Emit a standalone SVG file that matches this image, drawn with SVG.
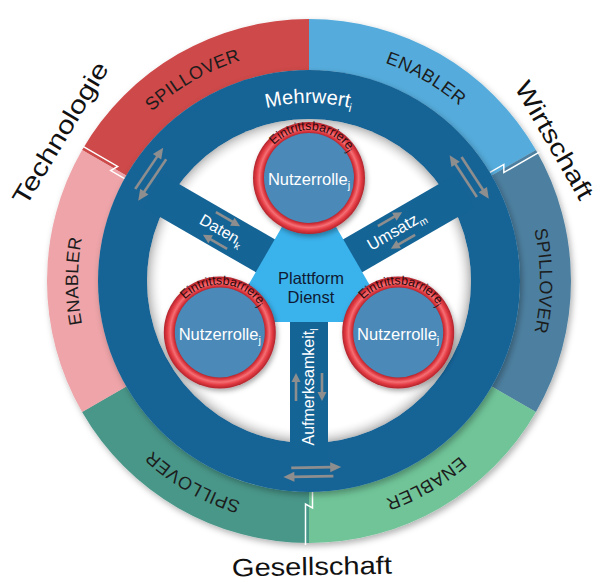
<svg xmlns="http://www.w3.org/2000/svg" width="595" height="581" viewBox="0 0 595 581">
<defs>
<style>
.lbl{font-family:"Liberation Sans",Arial,sans-serif;font-size:18px;fill:#1c1c1c;letter-spacing:0.4px}
.dom{font-family:"Liberation Sans",Arial,sans-serif;font-size:25px;fill:#111}
.wt{font-family:"Liberation Sans",Arial,sans-serif;fill:#fff}
.eb{font-family:"Liberation Sans",Arial,sans-serif;font-size:12.5px;fill:#2b0a0c}
.zz{fill:none;stroke:#fff;stroke-width:1.5;stroke-linejoin:miter}
.bar{fill:#156496}
.ln{stroke:#8e8e8e;stroke-width:2.6;fill:none}
.hd{fill:#8e8e8e}
.pf{font-family:"Liberation Sans",Arial,sans-serif;font-size:16.5px;fill:#0f1a33}
</style>
<filter id="sh" x="-10%" y="-10%" width="125%" height="125%"><feDropShadow dx="2" dy="3" stdDeviation="3" flood-color="#000" flood-opacity="0.3"/></filter>
<filter id="sh2" x="-20%" y="-20%" width="140%" height="140%"><feDropShadow dx="1.5" dy="2.5" stdDeviation="2.5" flood-color="#000" flood-opacity="0.35"/></filter>
<radialGradient id="tube" cx="0.5" cy="0.5" r="0.5">
<stop offset="0.79" stop-color="#a8222a"/>
<stop offset="0.835" stop-color="#dc363e"/>
<stop offset="0.885" stop-color="#f46f74"/>
<stop offset="0.94" stop-color="#e33a42"/>
<stop offset="1" stop-color="#b0242c"/>
</radialGradient>
<radialGradient id="inSh" gradientUnits="userSpaceOnUse" cx="309" cy="281" r="163">
<stop offset="0.9" stop-color="#fff" stop-opacity="0"/>
<stop offset="1" stop-color="#6f6f6f" stop-opacity="0.55"/>
</radialGradient>
<path id="lblPath" d="M309,512 A231,231 0 1 1 309,50 A231,231 0 1 1 309,512"/>
<path id="mwPath" d="M131,281 A178,178 0 0 1 487,281"/>
<path id="ebT" d="M261,178 A48,48 0 0 1 357,178"/>
<path id="ebL" d="M171.8,332.5 A48,48 0 0 1 267.8,332.5"/>
<path id="ebR" d="M350.2,332.5 A48,48 0 0 1 446.2,332.5"/>
<g id="as"><path class="ln" d="M-14,0 H6"/><path class="hd" d="M5,-4.5 L14,0 L5,4.5 Z"/></g>
<g id="al"><path class="ln" d="M-25,0 H16"/><path class="hd" d="M14,-5 L25,0 L14,5 Z"/></g>
</defs>

<rect width="595" height="581" fill="#fff"/>

<g id="outer-ring" filter="url(#sh)">
<path id="seg-tech-spillover" fill="#ce4a4a" d="M82.1,150 A262,262 0 0 1 309,19 L309,70 A211,211 0 0 0 126.3,175.5 Z"/>
<path id="seg-wirt-enabler" fill="#54acdc" d="M309,19 A262,262 0 0 1 535.9,150 L491.7,175.5 A211,211 0 0 0 309,70 Z"/>
<path id="seg-wirt-spillover" fill="#4e80a0" d="M535.9,150 A262,262 0 0 1 535.9,412 L491.7,386.5 A211,211 0 0 0 491.7,175.5 Z"/>
<path id="seg-ges-enabler" fill="#70c498" d="M535.9,412 A262,262 0 0 1 309,543 L309,492 A211,211 0 0 0 491.7,386.5 Z"/>
<path id="seg-ges-spillover" fill="#4a9789" d="M309,543 A262,262 0 0 1 82.1,412 L126.3,386.5 A211,211 0 0 0 309,492 Z"/>
<path id="seg-tech-enabler" fill="#eea4a8" d="M82.1,412 A262,262 0 0 1 82.1,150 L126.3,175.5 A211,211 0 0 0 126.3,386.5 Z"/>
</g>
<g id="zigzags">
<polyline class="zz" points="126.28,179.53 110.69,170.53 117.66,166.47 82.15,145.97"/>
<polyline class="zz" points="488.22,173.47 503.81,164.47 503.84,172.53 539.35,152.03"/>
<polyline class="zz" points="312.5,490 312.5,508 305.5,504 305.5,545"/>
</g>
<g id="ring-labels" class="lbl">
<text><textPath href="#lblPath" startOffset="8.333%" text-anchor="middle">SPILLOVER</textPath></text>
<text><textPath href="#lblPath" startOffset="25%" text-anchor="middle">ENABLER</textPath></text>
<text><textPath href="#lblPath" startOffset="41.667%" text-anchor="middle">SPILLOVER</textPath></text>
<text><textPath href="#lblPath" startOffset="58.333%" text-anchor="middle">ENABLER</textPath></text>
<text><textPath href="#lblPath" startOffset="75%" text-anchor="middle">SPILLOVER</textPath></text>
<text><textPath href="#lblPath" startOffset="91.667%" text-anchor="middle">ENABLER</textPath></text>
</g>

<g id="domain-labels" class="dom">
<text transform="translate(67.7,137.6) rotate(-59)" text-anchor="middle" textLength="162" lengthAdjust="spacingAndGlyphs">Technologie</text>
<text transform="translate(547,144.5) rotate(60)" text-anchor="middle" textLength="132" lengthAdjust="spacingAndGlyphs">Wirtschaft</text>
<text transform="translate(312,575) rotate(-1)" text-anchor="middle" textLength="160" lengthAdjust="spacingAndGlyphs">Gesellschaft</text>
</g>

<g id="value-ring">
<circle cx="309" cy="281" r="211" fill="#156496" filter="url(#sh)"/>
<circle cx="309" cy="281" r="162" fill="#fff"/>
<circle cx="309" cy="281" r="162" fill="url(#inSh)"/>
<text class="wt" font-size="20"><textPath href="#mwPath" startOffset="50%" text-anchor="middle">Mehrwert<tspan font-size="12" dy="4">i</tspan></textPath></text>
</g>

<g id="connectors">
<rect class="bar" x="0" y="-19" width="180" height="38" transform="translate(309,281) rotate(-150)"/>
<rect class="bar" x="0" y="-19" width="180" height="38" transform="translate(309,281) rotate(-30)"/>
<rect class="bar" x="0" y="-19" width="180" height="38" transform="translate(309,281) rotate(90)"/>
<g id="lbl-daten" transform="translate(221.5,230.5) rotate(30)">
<text class="wt" font-size="16" x="0" y="5" text-anchor="middle">Daten<tspan font-size="10" dy="4">k</tspan></text>
<use href="#as" transform="translate(0,-13)"/>
<use href="#as" transform="translate(0,13) scale(-1,1)"/>
</g>
<g id="lbl-umsatz" transform="translate(396.5,230.5) rotate(-30)">
<text class="wt" font-size="16.5" x="0" y="5" text-anchor="middle">Umsatz<tspan font-size="10" dy="4">m</tspan></text>
<use href="#as" transform="translate(0,-13)"/>
<use href="#as" transform="translate(0,13) scale(-1,1)"/>
</g>
<g id="lbl-aufmerksamkeit" transform="translate(309,387) rotate(-90)">
<text class="wt" font-size="16" x="0" y="5" text-anchor="middle">Aufmerksamkeit<tspan font-size="10" dy="4">l</tspan></text>
<use href="#as" transform="translate(0,-13)"/>
<use href="#as" transform="translate(0,13) scale(-1,1)"/>
</g>
<g id="ring-arrows-tl" transform="translate(150.7,174.2) rotate(-56)">
<use href="#al" transform="translate(4,-4.5)"/>
<use href="#al" transform="translate(-4,4.5) scale(-1,1)"/>
</g>
<g id="ring-arrows-tr" transform="translate(469.2,177) rotate(57)">
<use href="#al" transform="translate(4,-4.5)"/>
<use href="#al" transform="translate(-4,4.5) scale(-1,1)"/>
</g>
<g id="ring-arrows-b" transform="translate(312.3,472) rotate(179)">
<use href="#al" transform="translate(4,-4.5)"/>
<use href="#al" transform="translate(-4,4.5) scale(-1,1)"/>
</g>
</g>

<g id="platform">
<polygon points="309,180 391,322 227,322" fill="#3ab2ec"/>
<text class="pf" x="311" y="284" text-anchor="middle">Plattform</text>
<text class="pf" x="311" y="303" text-anchor="middle">Dienst</text>
</g>

<g id="nutzer-top">
<circle cx="309" cy="178" r="56" fill="url(#tube)" filter="url(#sh2)"/>
<circle cx="309" cy="178" r="45" fill="#4a89b8"/>
<text class="eb"><textPath href="#ebT" startOffset="52.8%" text-anchor="middle">Eintrittsbarriere<tspan font-size="9" dy="3">j</tspan></textPath></text>
<text class="wt" font-size="16.5" x="309" y="185" text-anchor="middle">Nutzerrolle<tspan font-size="11" dy="4">j</tspan></text>
</g>
<g id="nutzer-left">
<circle cx="219.8" cy="332.5" r="56" fill="url(#tube)" filter="url(#sh2)"/>
<circle cx="219.8" cy="332.5" r="45" fill="#4a89b8"/>
<text class="eb"><textPath href="#ebL" startOffset="52.8%" text-anchor="middle">Eintrittsbarriere<tspan font-size="9" dy="3">j</tspan></textPath></text>
<text class="wt" font-size="16.5" x="219.8" y="339.5" text-anchor="middle">Nutzerrolle<tspan font-size="11" dy="4">j</tspan></text>
</g>
<g id="nutzer-right">
<circle cx="398.2" cy="332.5" r="56" fill="url(#tube)" filter="url(#sh2)"/>
<circle cx="398.2" cy="332.5" r="45" fill="#4a89b8"/>
<text class="eb"><textPath href="#ebR" startOffset="52.8%" text-anchor="middle">Eintrittsbarriere<tspan font-size="9" dy="3">j</tspan></textPath></text>
<text class="wt" font-size="16.5" x="398.2" y="339.5" text-anchor="middle">Nutzerrolle<tspan font-size="11" dy="4">j</tspan></text>
</g>
</svg>
